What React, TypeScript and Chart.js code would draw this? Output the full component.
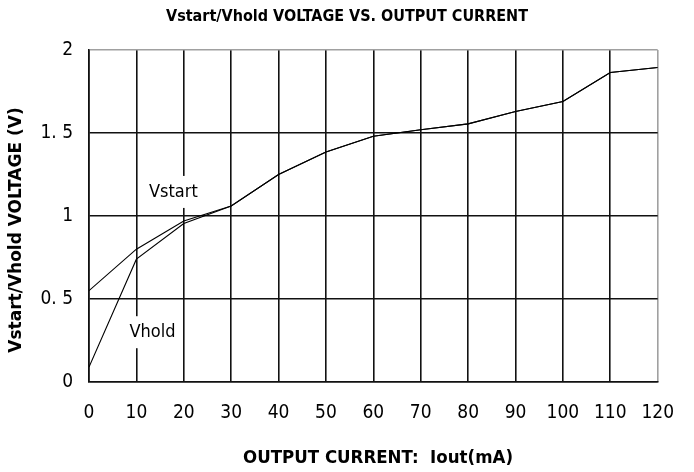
import React, { useEffect, useRef } from "react";
import { Chart, registerables } from "chart.js";

Chart.register(...registerables);

const currents = [0, 10, 20, 30, 40, 50, 60, 70, 80, 90, 100, 110, 120];
const vstart = [0.55, 0.8, 0.97, 1.06, 1.25, 1.385, 1.48, 1.52, 1.555, 1.63, 1.69, 1.865, 1.895];
const vhold = [0.09, 0.74, 0.955, 1.06, 1.25, 1.385, 1.48, 1.52, 1.555, 1.63, 1.69, 1.865, 1.895];
const xTickLabels = ["0", "10", "20", "30", "40", "50", "60", "70", "80", "90", "100", "110", "120"];
const yTickLabels = ["0", "0. 5", "1", "1. 5", "2"];
const seriesNotes = [
  { text: "Vstart", x: 17.8, y: 1.145 },
  { text: "Vhold", x: 13.4, y: 0.3 },
];
const chartTitle = "Vstart/Vhold VOLTAGE VS. OUTPUT CURRENT";
const xTitle = "OUTPUT CURRENT:  Iout(mA)";
const yTitle = "Vstart/Vhold VOLTAGE (V)";

const NARROW = "'Liberation Sans Narrow', 'DejaVu Sans Condensed', 'Liberation Sans', Arial, sans-serif";
const WIDE = "'DejaVu Sans', 'Liberation Sans', Arial, sans-serif";

const decorPlugin = {
  id: "decor",
  afterDraw(chart: any) {
    const ctx = chart.ctx;
    const xs = chart.scales.x;
    const ys = chart.scales.y;
    ctx.save();
    // series labels with white background
    ctx.font = `18px ${NARROW}`;
    ctx.textAlign = "center";
    ctx.textBaseline = "middle";
    seriesNotes.forEach((n) => {
      const px = xs.getPixelForValue(n.x);
      const py = ys.getPixelForValue(n.y);
      const w = ctx.measureText(n.text).width + 8;
      const h = 32;
      ctx.fillStyle = "#fff";
      ctx.fillRect(px - w / 2, py - h / 2, w, h);
      ctx.fillStyle = "#000";
      ctx.fillText(n.text, px, py);
    });
    // titles
    ctx.fillStyle = "#000";
    ctx.font = `bold 16px ${NARROW}`;
    ctx.fillText(chartTitle, 347, 17);
    ctx.font = `bold 18.5px ${NARROW}`;
    ctx.fillText(xTitle, 378, 458);
    ctx.font = `bold 17px ${WIDE}`;
    ctx.translate(17, 230);
    ctx.rotate(-Math.PI / 2);
    ctx.fillText(yTitle, 0, 0);
    ctx.restore();
  },
};

export default function App() {
  const ref = useRef<HTMLCanvasElement>(null);
  useEffect(() => {
    const canvas = ref.current!;
    const chart = new Chart(canvas, {
      type: "line",
      data: {
        datasets: [
          {
            label: "Vstart",
            data: currents.map((c, i) => ({ x: c, y: vstart[i] })),
            borderColor: "#000",
            borderWidth: 1.1,
            pointRadius: 0,
            tension: 0,
            fill: false,
          },
          {
            label: "Vhold",
            data: currents.map((c, i) => ({ x: c, y: vhold[i] })),
            borderColor: "#000",
            borderWidth: 1.1,
            pointRadius: 0,
            tension: 0,
            fill: false,
          },
        ],
      },
      options: {
        animation: false,
        responsive: false,
        layout: { padding: { top: 50, right: 16, left: 0, bottom: 0 } },
        plugins: {
          legend: { display: false },
          tooltip: { enabled: false },
          title: { display: false },
        },
        scales: {
          x: {
            type: "linear",
            min: 0,
            max: 120,
            afterFit: (s: any) => {
              s.height = 90;
            },
            afterBuildTicks: (s: any) => {
              s.ticks = currents.map((v) => ({ value: v }));
            },
            ticks: {
              padding: 20,
              color: "#000",
              font: { family: NARROW, size: 19 },
              maxRotation: 0,
              autoSkip: false,
              callback: (_v: any, i: number) => xTickLabels[i],
            },
            grid: {
              drawTicks: false,
              lineWidth: 1.6,
              color: (c: any) => (c.tick && c.tick.value === 120 ? "#a0a0a0" : "#111"),
            },
            border: { display: true, color: "#111", width: 1.6 },
          },
          y: {
            type: "linear",
            min: 0,
            max: 2,
            afterFit: (s: any) => {
              s.width = 89;
            },
            afterBuildTicks: (s: any) => {
              s.ticks = [0, 0.5, 1, 1.5, 2].map((v) => ({ value: v }));
            },
            ticks: {
              padding: 16,
              color: "#000",
              font: { family: NARROW, size: 19 },
              callback: (_v: any, i: number) => yTickLabels[i],
            },
            grid: {
              drawTicks: false,
              lineWidth: 1.6,
              color: (c: any) => (c.tick && c.tick.value === 2 ? "#a0a0a0" : "#111"),
            },
            border: { display: true, color: "#111", width: 1.6 },
          },
        },
      },
      plugins: [decorPlugin],
    } as any);
    return () => chart.destroy();
  }, []);
  return (
    <div style={{ position: "absolute", left: 0, top: 0, width: 694, height: 472, background: "#fff" }}>
      <canvas ref={ref} width={694} height={472} />
    </div>
  );
}
